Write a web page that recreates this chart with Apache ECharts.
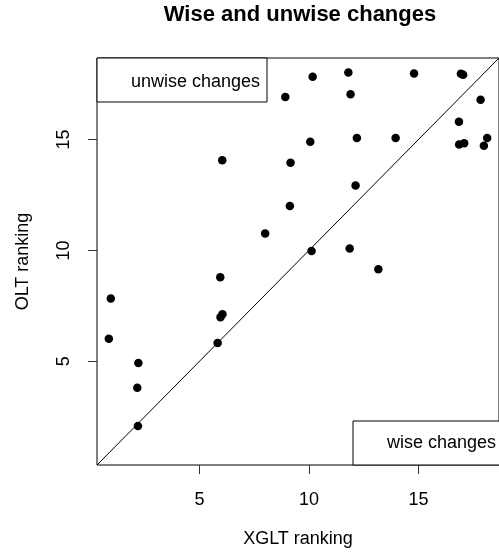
<!DOCTYPE html>
<html><head><meta charset="utf-8">
<script src="https://cdn.jsdelivr.net/npm/echarts@6/dist/echarts.min.js"></script>
<style>html,body{margin:0;padding:0;background:#fff}#main{width:499px;height:557px}</style>
</head><body><div id="main"></div>
<script>
// XGLT ranking (x) vs OLT ranking (y)
var xglt = [10.17, 11.8, 14.8, 16.94, 17.04, 8.92, 11.9, 17.84, 16.85, 10.06, 12.19, 13.96,
            16.86, 17.09, 18.14, 17.99, 6.04, 9.16, 12.13, 9.13, 8.0, 10.12, 11.86, 13.17,
            5.95, 0.95, 6.05, 5.96, 0.86, 5.83, 2.21, 2.16, 2.19];
var olt  = [17.83, 18.03, 17.98, 17.97, 17.92, 16.92, 17.05, 16.8, 15.8, 14.9, 15.07, 15.07,
            14.78, 14.83, 15.07, 14.72, 14.07, 13.95, 12.93, 12.0, 10.76, 9.97, 10.09, 9.15,
            8.79, 7.83, 7.12, 6.98, 6.02, 5.82, 4.92, 3.8, 2.08];
var tickVals = [5, 10, 15];
var axisMin = 0.32, axisMax = 18.68;
var diag = [[axisMin, axisMin], [axisMax, axisMax]];

var font = "'Liberation Sans', Arial, sans-serif";
var pts = xglt.map(function (x, i) { return [x, olt[i]]; });

// plot box in pixels
var L = 97, T = 58, W = 407, H = 407;

var chart = echarts.init(document.getElementById('main'));
chart.setOption({
  animation: false,
  title: {
    text: 'Wise and unwise changes',
    left: 300, top: 4, textAlign: 'center', padding: 0,
    textStyle: { fontFamily: font, fontSize: 22, fontWeight: 'bold', color: '#000' }
  },
  grid: { left: L, top: T, width: W, height: H, show: true, borderColor: '#000', borderWidth: 1 },
  xAxis: {
    type: 'value', min: axisMin, max: axisMax,
    name: 'XGLT ranking', nameLocation: 'middle', nameGap: 65,
    nameTextStyle: { fontFamily: font, fontSize: 18, color: '#000' },
    axisLine: { show: false },
    axisTick: { show: true, length: 9, customValues: tickVals, lineStyle: { color: '#333' } },
    axisLabel: { customValues: tickVals, margin: 26, fontFamily: font, fontSize: 18, color: '#000' },
    splitLine: { show: false }
  },
  yAxis: {
    type: 'value', min: axisMin, max: axisMax,
    name: 'OLT ranking', nameLocation: 'middle', nameGap: 65,
    nameTextStyle: { fontFamily: font, fontSize: 18, color: '#000' },
    axisLine: { show: false },
    axisTick: { show: true, length: 9, customValues: tickVals, lineStyle: { color: '#333' } },
    axisLabel: { customValues: tickVals, rotate: 90, margin: 24, fontFamily: font, fontSize: 18, color: '#000' },
    splitLine: { show: false }
  },
  series: [
    {
      type: 'line', data: diag, symbol: 'none', silent: true,
      lineStyle: { color: '#000', width: 1 }
    },
    {
      type: 'scatter', data: pts, symbol: 'circle', symbolSize: 8.5,
      itemStyle: { color: '#000', opacity: 1 }
    }
  ],
  graphic: [
    { type: 'rect', z: 100, shape: { x: L, y: T, width: 170, height: 44 },
      style: { fill: '#fff', stroke: '#000', lineWidth: 1 } },
    { type: 'text', z: 101, x: 131, y: 82,
      style: { text: 'unwise changes', font: '18px ' + font, fill: '#000', verticalAlign: 'middle' } },
    { type: 'rect', z: 100, shape: { x: 353, y: 421, width: 160, height: 44 },
      style: { fill: '#fff', stroke: '#000', lineWidth: 1 } },
    { type: 'text', z: 101, x: 387, y: 443,
      style: { text: 'wise changes', font: '18px ' + font, fill: '#000', verticalAlign: 'middle' } }
  ]
});
</script>
</body></html>
